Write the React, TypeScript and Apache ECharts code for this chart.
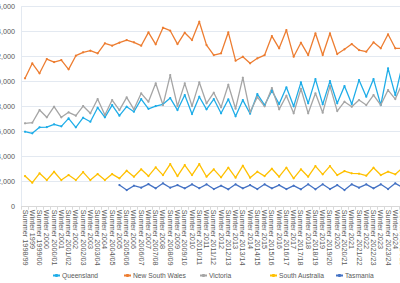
import React, { useEffect, useRef } from "react";
import * as echarts from "echarts";

const categories = [
  "Summer 1998/99", "Winter 1999", "Summer 1999/00", "Winter 2000", "Summer 2000/01", "Winter 2001",
  "Summer 2001/02", "Winter 2002", "Summer 2002/03", "Winter 2003", "Summer 2003/04", "Winter 2004",
  "Summer 2004/05", "Winter 2005", "Summer 2005/06", "Winter 2006", "Summer 2006/07", "Winter 2007",
  "Summer 2007/08", "Winter 2008", "Summer 2008/09", "Winter 2009", "Summer 2009/10", "Winter 2010",
  "Summer 2010/11", "Winter 2011", "Summer 2011/12", "Winter 2012", "Summer 2012/13", "Winter 2013",
  "Summer 2013/14", "Winter 2014", "Summer 2014/15", "Winter 2015", "Summer 2015/16", "Winter 2016",
  "Summer 2016/17", "Winter 2017", "Summer 2017/18", "Winter 2018", "Summer 2018/19", "Winter 2019",
  "Summer 2019/20", "Winter 2020", "Summer 2020/21", "Winter 2021", "Summer 2021/22", "Winter 2022",
  "Summer 2022/23", "Winter 2023", "Summer 2023/24", "Winter 2024", "Summer 2024/25",
];

const queensland = [
  6000, 5870, 6350, 6370, 6590, 6430, 7070, 6350, 7120, 6800, 7920, 7150,
  8130, 7280, 8000, 7600, 8610, 7830, 8050, 8190, 8690, 7730, 8930, 7410,
  8800, 7790, 8610, 7470, 8590, 7230, 8530, 7440, 9010, 8130, 9280, 8210,
  9550, 8030, 9950, 8270, 10210, 8190, 10050, 8270, 9650, 8210, 10130, 8800,
  10210, 8130, 11070, 8930, 11400,
];

const newSouthWales = [
  10270, 11470, 10670, 11810, 11570, 11730, 10990, 12080, 12350, 12480, 12270, 13070,
  12880, 13120, 13330, 13150, 12880, 13950, 12990, 14320, 14080, 13010, 13920, 13330,
  14800, 12930, 12130, 12270, 13950, 11680, 12000, 11470, 11870, 12130, 13650, 12670,
  14130, 12000, 13120, 12130, 13870, 12130, 13870, 12210, 12590, 13010, 12530, 12400,
  13150, 12670, 13790, 12670, 12670,
];

const victoria = [
  6670, 6720, 7730, 7150, 8000, 7150, 7550, 7280, 8050, 7470, 8610, 7330,
  8530, 7730, 8750, 7790, 9070, 8400, 9870, 8130, 10530, 8050, 9870, 8050,
  9950, 8270, 9120, 7950, 9760, 7840, 10320, 7570, 8770, 8030, 9490, 7790,
  8880, 7470, 9440, 7470, 9070, 7520, 9650, 7650, 8400, 8000, 8530, 8130,
  8930, 8130, 9330, 8610, 9930,
];

const southAustralia = [
  2450, 1920, 2670, 2130, 2800, 2130, 2530, 2130, 2770, 2130, 2610, 2130,
  2610, 2270, 2880, 2400, 2990, 2450, 3150, 2530, 3410, 2450, 3330, 2530,
  3410, 2400, 2990, 2350, 3120, 2320, 3280, 2320, 2800, 2450, 3040, 2400,
  3120, 2270, 2990, 2400, 3250, 2590, 3250, 2530, 2850, 2670, 2640, 2480,
  3120, 2530, 2800, 2590, 3100,
];

const tasmania = [
  null, null, null, null, null, null, null, null, null, null, null, null,
  null, 1730, 1330, 1680, 1520, 1810, 1470, 1870, 1520, 1730, 1470, 1790,
  1480, 1790, 1410, 1680, 1390, 1790, 1470, 1730, 1410, 1790, 1470, 1730,
  1410, 1680, 1390, 1790, 1390, 1790, 1410, 1730, 1330, 1790, 1520, 1790,
  1470, 1790, 1410, 1870, 1550,
];

const seriesNames = ["Queensland", "New South Wales", "Victoria", "South Australia", "Tasmania"];
const seriesData = [queensland, newSouthWales, victoria, southAustralia, tasmania];
const seriesColors = ["#1FADE8", "#ED7D31", "#A5A5A5", "#FFC000", "#4472C4"];
const legendLefts = [52, 123, 199, 269, 335];

const yTicks = { min: 0, max: 16000, interval: 2000 };

export default function App() {
  const ref = useRef<HTMLDivElement>(null);

  useEffect(() => {
    if (!ref.current) return;
    document.body.style.overflow = "hidden";
    const chart = echarts.init(ref.current, null, { renderer: "svg" });
    const font = "Liberation Sans, Arial, sans-serif";
    chart.setOption({
      animation: false,
      textStyle: { fontFamily: font },
      grid: {
        left: 21.4,
        right: 13.8,
        top: 6.7,
        bottom: 76.3,
        containLabel: false,
        outerBoundsMode: "none",
      },
      legend: seriesNames.map((name, i) => ({
        data: [name],
        left: legendLefts[i],
        top: 272,
        itemWidth: 7,
        itemHeight: 4,
        itemGap: 0,
        padding: 0,
        textStyle: { fontSize: 6.7, color: "#595959", fontFamily: font, padding: [0, 0, 0, -3] },
      })),
      xAxis: {
        type: "category",
        data: categories,
        boundaryGap: true,
        axisLine: { lineStyle: { color: "#D9D9D9", width: 1 } },
        axisTick: { show: true, length: 3, lineStyle: { color: "#D9D9D9" } },
        axisLabel: {
          interval: 0,
          rotate: -90,
          fontSize: 7.3,
          color: "#595959",
          margin: 3,
          fontFamily: font,
        },
      },
      yAxis: {
        type: "value",
        min: yTicks.min,
        max: yTicks.max,
        interval: yTicks.interval,
        axisLine: { show: true, lineStyle: { color: "#E3E9F1" } },
        axisTick: { show: false },
        splitLine: { lineStyle: { color: "#E3E9F1", width: 1 } },
        axisLabel: {
          fontSize: 7.2,
          color: "#595959",
          margin: 6.5,
          fontFamily: font,
          formatter: (v: number) => v.toLocaleString("en-US"),
        },
      },
      series: seriesNames.map((name, i) => ({
        name,
        type: "line",
        data: seriesData[i],
        symbol: "circle",
        symbolSize: 2.2,
        showSymbol: true,
        connectNulls: false,
        lineStyle: { color: seriesColors[i], width: 1.3 },
        itemStyle: { color: seriesColors[i] },
      })),
    });
    return () => chart.dispose();
  }, []);

  return (
    <div style={{ position: "fixed", left: 0, top: 0, width: 400, height: 283, overflow: "hidden", background: "#fff" }}>
      <div ref={ref} style={{ position: "absolute", left: 0, top: 0, width: 420, height: 283 }} />
    </div>
  );
}
